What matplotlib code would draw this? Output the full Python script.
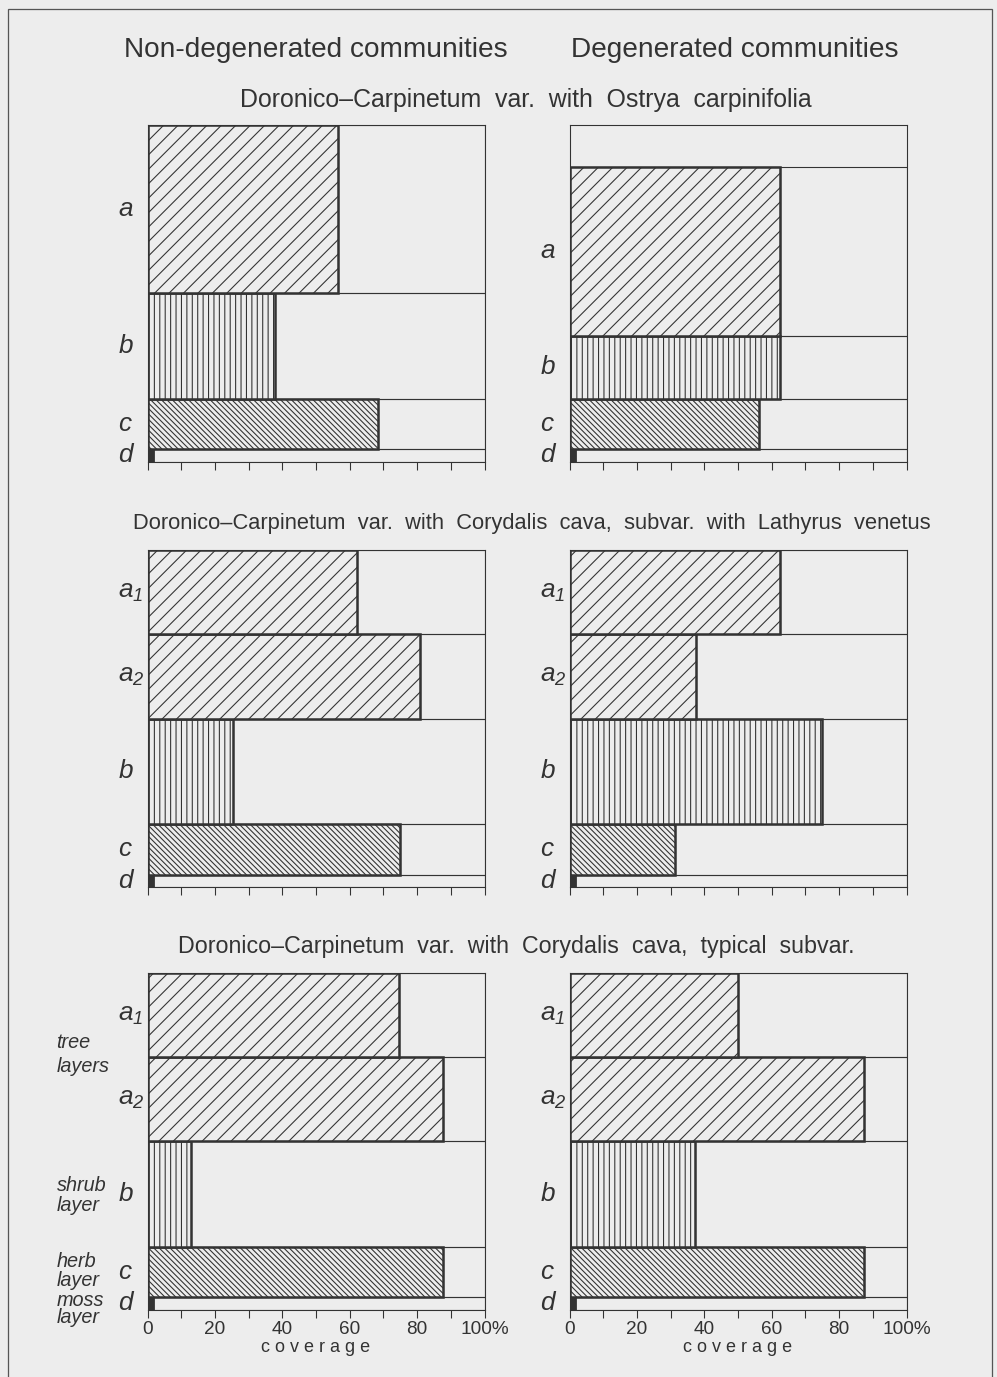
import numpy as np
import matplotlib
matplotlib.use('Agg')
import matplotlib.pyplot as plt
import matplotlib.transforms as mtransforms

# ==========================================================
# 1. DADOS (camadas de baixo para cima: d, c, b, a / a2, a1)
# ==========================================================
col_titles = ['Non-degenerated communities', 'Degenerated communities']
row_titles = ['Doronico\u2013Carpinetum  var.  with  Ostrya  carpinifolia',
              'Doronico\u2013Carpinetum  var.  with  Corydalis  cava,  subvar.  with  Lathyrus  venetus',
              'Doronico\u2013Carpinetum  var.  with  Corydalis  cava,  typical  subvar.']

layers_row1 = ['d', 'c', 'b', 'a']
layers_row23 = ['d', 'c', 'b', 'a2', 'a1']
layer_text = {'a': '$a$', 'a1': '$a_1$', 'a2': '$a_2$', 'b': '$b$', 'c': '$c$', 'd': '$d$'}

# espessura de cada camada (altura relativa, caixa = 30)
thick_r1_non = [1.1, 4.5, 9.4, 15.0]
thick_r1_deg = [1.1, 4.5, 5.6, 15.0]
thick_r2_non = [1.1, 4.5, 9.4, 7.5, 7.5]
thick_r2_deg = [1.1, 4.5, 9.4, 7.5, 7.5]
thick_r3_non = [1.1, 4.5, 9.4, 7.5, 7.5]
thick_r3_deg = [1.1, 4.5, 9.4, 7.5, 7.5]

# cobertura (%)
cov_r1_non = [2, 68.5, 37.7, 56.5]
cov_r1_deg = [2, 56.3, 62.4, 62.4]
cov_r2_non = [2, 75.0, 25.3, 80.9, 62.3]
cov_r2_deg = [2, 31.4, 75.0, 37.4, 62.6]
cov_r3_non = [2, 87.6, 12.8, 87.6, 74.7]
cov_r3_deg = [2, 87.4, 37.2, 87.4, 49.9]

tick_vals = list(range(0, 101, 10))
tick_labels = ['0', '', '20', '', '40', '', '60', '', '80', '', '100%']

hatches = {'a': '///', 'a1': '///', 'a2': '///', 'b': '||||',
           'c': '\\\\\\\\\\\\\\\\', 'd': None}

# ==========================================================
# 2. ESTILO
# ==========================================================
DPI = 130
INK = '#333333'
BG = '#ededed'
plt.rcParams['font.family'] = ['Liberation Sans', 'DejaVu Sans']
plt.rcParams['mathtext.fontset'] = 'custom'
plt.rcParams['mathtext.it'] = 'Liberation Sans:italic'
plt.rcParams['mathtext.rm'] = 'Liberation Sans:italic'
plt.rcParams['hatch.linewidth'] = 0.6
plt.rcParams['hatch.color'] = INK

fig = plt.figure(figsize=(997 / DPI, 1377 / DPI), dpi=DPI, facecolor=BG)

W, H = 997.0, 1377.0
col_x = [147.5, 569.5]
row_top = [124.5, 550.0, 972.5]
box = 337.0

panels = [
    (0, 0, layers_row1, thick_r1_non, cov_r1_non),
    (0, 1, layers_row1, thick_r1_deg, cov_r1_deg),
    (1, 0, layers_row23, thick_r2_non, cov_r2_non),
    (1, 1, layers_row23, thick_r2_deg, cov_r2_deg),
    (2, 0, layers_row23, thick_r3_non, cov_r3_non),
    (2, 1, layers_row23, thick_r3_deg, cov_r3_deg),
]

# ==========================================================
# 3. PAINEIS
# ==========================================================
axes = {}
for r, c, layers, thick, cov in panels:
    ax = fig.add_axes([col_x[c] / W, 1 - (row_top[r] + box) / H, box / W, box / H])
    ax.set_facecolor(BG)
    axes[(r, c)] = ax
    bottoms = np.concatenate([[0], np.cumsum(thick)[:-1]])

    for name, b0, h, v in zip(layers, bottoms, thick, cov):
        # linha da camada em toda a largura
        ax.barh(b0, 100, height=h, left=0, align='edge', fill=False,
                edgecolor=INK, linewidth=0.6)
        if hatches[name] is None:
            ax.barh(b0, v, height=h, align='edge', color=INK, edgecolor=INK, linewidth=1.0)
        else:
            ax.barh(b0, v, height=h, align='edge', facecolor=BG, edgecolor=INK,
                    hatch=hatches[name], linewidth=1.4)
        trans = mtransforms.blended_transform_factory(ax.transAxes, ax.transData)
        ax.text(-0.088, b0 + h / 2, layer_text[name], transform=trans, ha='left',
                va='center', fontsize=14.5, color=INK)

    ax.set_xlim(0, 100)
    ax.set_ylim(0, 30)
    ax.set_yticks([])
    ax.set_xticks(tick_vals)
    ax.tick_params(axis='x', direction='out', length=4.5, width=0.6, color=INK,
                   labelsize=10.5, labelcolor=INK, pad=2)
    if r == 2:
        ax.set_xticklabels(tick_labels)
        ax.text(0.5, -0.114, 'c o v e r a g e', transform=ax.transAxes, ha='center',
                va='center', fontsize=10, color=INK)
    else:
        ax.set_xticklabels([])
    for s in ax.spines.values():
        s.set_linewidth(0.6)
        s.set_color(INK)

# ==========================================================
# 4. TITULOS E TEXTOS
# ==========================================================
fig.text(316 / W, 1 - 50 / H, col_titles[0], ha='center', va='center', fontsize=15.5, color=INK)
fig.text(735 / W, 1 - 50 / H, col_titles[1], ha='center', va='center', fontsize=15.5, color=INK)

row_title_y = [100, 523, 947]
row_title_x = [526, 532, 516]
row_title_size = [13.8, 12.1, 12.9]
for t, x, y, fs in zip(row_titles, row_title_x, row_title_y, row_title_size):
    fig.text(x / W, 1 - y / H, t, ha='center', va='center', fontsize=fs, color=INK)

# descricao das camadas (painel inferior esquerdo)
ax = axes[(2, 0)]
trans = mtransforms.blended_transform_factory(ax.transAxes, ax.transData)
side_text = [('tree', 23.8), ('layers', 21.6), ('shrub', 11.0), ('layer', 9.25),
             ('herb', 4.26), ('layer', 2.56), ('moss', 0.78), ('layer', -0.74)]
for txt, y in side_text:
    ax.text(-0.27, y, txt, transform=trans, ha='left', va='center',
            fontsize=11, style='italic', color=INK)

# moldura da pagina
fig.add_artist(plt.Rectangle((8 / W, -0.01), 984 / W, 1.01 - 9 / H, transform=fig.transFigure,
                             fill=False, edgecolor='#555555', linewidth=0.7))

plt.savefig('out.png', dpi=DPI, facecolor=BG)
plt.close()
print('[OK] Grafico salvo: out.png')
